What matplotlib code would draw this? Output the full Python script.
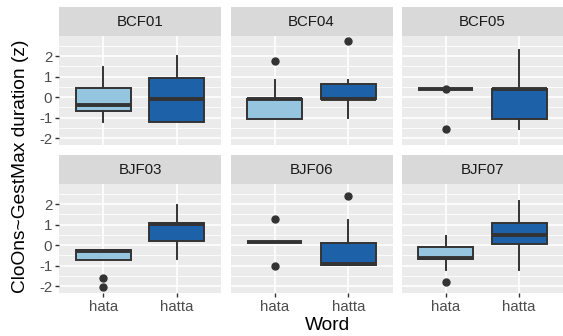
import matplotlib.pyplot as plt

# speakers (facets) and words
speakers = ['BCF01', 'BCF04', 'BCF05', 'BJF03', 'BJF06', 'BJF07']
words = ['hata', 'hatta']
colors = ['#96c6df', '#1d62a8']

# box stats per speaker: [hata, hatta] -> (whislo, q1, med, q3, whishi, fliers)
box_stats = {
    'BCF01': [(-1.20, -0.66, -0.38, 0.43, 1.45, []),
              (-1.20, -1.20, -0.10, 0.95, 1.98, [])],
    'BCF04': [(-1.05, -1.05, -0.08, -0.08, 0.82, [1.78]),
              (-1.02, -0.08, -0.08, 0.62, 0.82, [2.75])],
    'BCF05': [(0.38, 0.38, 0.38, 0.38, 0.38, [0.38, -1.55]),
              (-1.55, -1.07, 0.38, 0.38, 2.30, [])],
    'BJF03': [(-0.72, -0.72, -0.27, -0.24, -0.24, [-1.60, -2.03]),
              (-0.68, 0.19, 1.04, 1.06, 1.93, [])],
    'BJF06': [(0.14, 0.14, 0.14, 0.14, 0.14, [1.26, -1.00]),
              (-0.97, -0.97, -0.95, 0.12, 1.24, [2.40])],
    'BJF07': [(-1.20, -0.68, -0.63, -0.10, 0.43, [-1.82]),
              (-1.20, 0.05, 0.48, 1.06, 2.17, [])],
}

yticks = [-2, -1, 0, 1, 2]

W, H = 563, 336
fig = plt.figure(figsize=(W / 100, H / 100), dpi=100)
plt.rcParams['font.family'] = ['Liberation Sans', 'DejaVu Sans']

lefts = [59, 230.5, 402]
widths = [162, 162, 161]
row_tops = [36, 184]
panel_h = 109
strip_h = 29
line_col = '#333333'

for i, sp in enumerate(speakers):
    r, c = divmod(i, 3)
    x0, w = lefts[c], widths[c]
    top = row_tops[r]
    ax = fig.add_axes([x0 / W, 1 - (top + panel_h) / H, w / W, panel_h / H])
    ax.set_facecolor('#ebebeb')
    for s in ax.spines.values():
        s.set_visible(False)

    stats = []
    for j, (lo, q1, med, q3, hi, fl) in enumerate(box_stats[sp]):
        stats.append(dict(whislo=lo, q1=q1, med=med, q3=q3, whishi=hi, fliers=fl, label=words[j]))
    bp = ax.bxp(stats, positions=[1, 2], widths=0.75, patch_artist=True, showcaps=False,
                boxprops=dict(edgecolor=line_col, linewidth=1.4),
                medianprops=dict(color=line_col, linewidth=2.8, solid_capstyle='butt'),
                whiskerprops=dict(color=line_col, linewidth=1.4),
                flierprops=dict(marker='o', markerfacecolor=line_col, markeredgecolor=line_col,
                                markersize=5, linestyle='none'))
    for patch, col in zip(bp['boxes'], colors):
        patch.set_facecolor(col)
    for ln in bp['whiskers'] + bp['medians'] + bp['fliers'] + bp['boxes']:
        ln.set_zorder(3)

    ax.set_xlim(0.4, 2.6)
    ax.set_ylim(-2.34, 2.976)
    ax.set_yticks(yticks)
    ax.set_yticks([-1.5, -0.5, 0.5, 1.5, 2.5], minor=True)
    ax.grid(True, which='major', color='white', linewidth=1.2, zorder=0)
    ax.grid(True, which='minor', axis='y', color='white', linewidth=0.6, zorder=0)
    ax.set_axisbelow(True)
    ax.tick_params(which='minor', length=0)
    ax.tick_params(which='major', length=2.8, width=1.0, color=line_col,
                   labelsize=10.8, labelcolor='#4d4d4d', pad=2)
    if c == 0:
        ax.set_yticklabels([str(t) for t in yticks])
    else:
        ax.tick_params(axis='y', left=False, labelleft=False)
    if r == 1:
        ax.set_xticks([1, 2])
        ax.set_xticklabels(words)
    else:
        ax.tick_params(axis='x', bottom=False, labelbottom=False)

    # facet strip
    sax = fig.add_axes([x0 / W, 1 - top / H, w / W, strip_h / H])
    sax.set_facecolor('#d9d9d9')
    sax.set_xticks([])
    sax.set_yticks([])
    for s in sax.spines.values():
        s.set_visible(False)
    sax.text(0.5, 0.5, sp, ha='center', va='center', fontsize=10.8, color='#1a1a1a',
             transform=sax.transAxes)

fig.text(327 / W, 1 - 325 / H, 'Word', ha='center', va='center', fontsize=13.8)
fig.text(21 / W, 1 - 166 / H, 'CloOns~GestMax duration (z)', ha='center', va='center',
         rotation=90, fontsize=13.8)

fig.savefig('out.png', dpi=100)
